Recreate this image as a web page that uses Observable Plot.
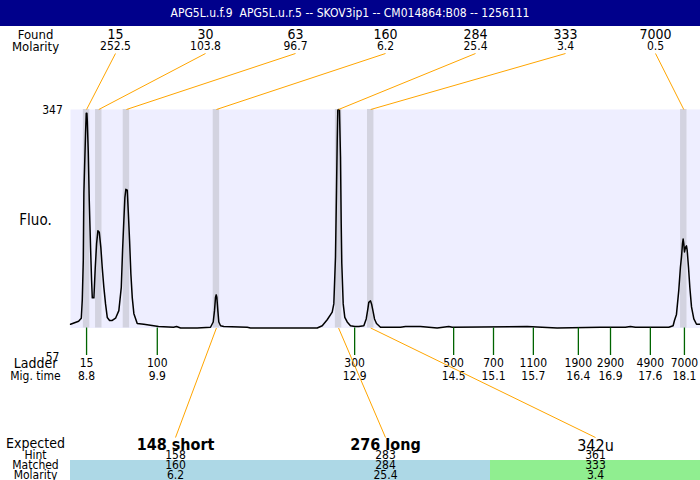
<!DOCTYPE html>
<html>
<head>
<meta charset="utf-8">
<script src="https://cdn.jsdelivr.net/npm/d3@7"></script>
<script src="https://cdn.jsdelivr.net/npm/@observablehq/plot@0.6"></script>
<style>
  html, body { margin: 0; padding: 0; background: #fff; }
  #title { width: 700px; height: 26px; line-height: 26px; background: #00008b; color: #fff;
           font-family: "DejaVu Sans Condensed", "DejaVu Sans", sans-serif; font-stretch: condensed; font-size: 12px; text-align: center; white-space: pre; }
  #chart svg { display: block; }
</style>
</head>
<body>
<div id="title">APG5L.u.f.9  APG5L.u.r.5 -- SKOV3ip1 -- CM014864:B08 -- 1256111</div>
<div id="chart"></div>
<script>
// ---------- data ----------
const ladderSizes = [15, 100, 300, 500, 700, 1100, 1900, 2900, 4900, 7000];
const ladderMig = [8.80, 9.90, 12.97, 14.51, 15.13, 15.75, 16.45, 16.95, 17.57, 18.10];
const ladderMigLabels = ["8.8", "9.9", "12.9", "14.5", "15.1", "15.7", "16.4", "16.9", "17.6", "18.1"];

const foundSizes = [15, 30, 63, 160, 284, 333, 7000];
const foundMolarity = [252.5, 103.8, 96.7, 6.2, 25.4, 3.4, 0.5];
const foundMig = [8.80, 8.99, 9.42, 10.82, 12.72, 13.22, 18.09];

const expectedLabels = ["148 short", "276 long", "342u"];
const expectedHint = [158, 283, 361];
const matchedSizes = [160, 284, 333];
const matchedMolarity = [6.2, 25.4, 3.4];
const matchType = ["expected", "expected", "unexpected"];

const traceMig = [8.551, 8.676, 8.718, 8.733, 8.749, 8.758, 8.769, 8.784, 8.795, 8.805, 8.811, 8.826, 8.842, 8.862, 8.878, 8.889,
  8.914, 8.935, 8.956, 8.976, 8.998, 9.022, 9.044, 9.069, 9.095, 9.122, 9.158, 9.200, 9.251, 9.302, 9.340, 9.360,
  9.380, 9.396, 9.411, 9.433, 9.448, 9.469, 9.489, 9.511, 9.536, 9.588, 9.691, 9.920, 10.153, 10.200, 10.262, 10.521,
  10.728, 10.770, 10.790, 10.806, 10.817, 10.826, 10.842, 10.857, 10.884, 10.935, 11.299, 11.350, 11.610, 12.388,
  12.466, 12.543, 12.621, 12.646, 12.672, 12.688, 12.699, 12.708, 12.719, 12.734, 12.750, 12.761, 12.770, 12.792,
  12.817, 12.854, 12.905, 12.973, 13.035, 13.113, 13.150, 13.175, 13.190, 13.217, 13.233, 13.259, 13.279, 13.310,
  13.372, 13.683, 13.761, 13.994, 14.254, 14.434, 14.490, 15.654, 16.120, 16.793, 17.182, 17.260, 17.338, 17.415,
  17.571, 17.856, 17.924, 17.945, 17.976, 18.012, 18.038, 18.054, 18.070, 18.080, 18.090, 18.101, 18.116, 18.132,
  18.143, 18.163, 18.184, 18.210, 18.246, 18.288, 18.349];
const traceFluo = [62, 66, 70, 94, 147, 236, 270, 315, 342, 342, 332, 292, 226, 164, 120, 97,
  97, 137, 169, 186, 184, 164, 137, 111, 89, 71, 67, 67, 70, 80, 111, 160,
  200, 230, 241, 240, 213, 173, 129, 97, 76, 63, 62, 59, 58, 59, 57, 57,
  58, 65, 80, 98, 101, 98, 80, 65, 60, 59, 58, 57, 57, 57,
  60, 68, 78, 89, 151, 240, 306, 346, 347, 346, 284, 196, 143, 89,
  71, 65, 60, 59, 59, 60, 69, 82, 91, 93, 89, 78, 69, 63,
  58, 58, 59, 59, 57, 59, 58, 59, 57, 58, 58, 59, 58, 58,
  58, 58, 60, 67, 75, 107, 138, 151, 169, 175, 169, 158, 164, 166,
  160, 138, 111, 85, 69, 62, 62];

// ---------- build tables ----------
const ladder = ladderSizes.map((s, i) => ({size: s, mig: ladderMig[i], migLabel: ladderMigLabels[i]}));
const found = foundSizes.map((s, i) => ({i, size: s, molarity: foundMolarity[i], mig: foundMig[i]}));
const expected = expectedLabels.map((label, j) => ({
  j, label, hint: expectedHint[j], matched: matchedSizes[j], molarity: matchedMolarity[j], type: matchType[j],
  mig: foundMig[foundSizes.indexOf(matchedSizes[j])]
}));
const trace = traceMig.map((t, i) => ({t, f: traceFluo[i]}));

// ---------- layout ----------
const W = 700, H = 454;
const xDomain = [8.55, 18.35], yDomain = [57, 347];
const xRange = [70, 700], yRange = [301.5, 83];
const X = Plot.scale({x: {domain: xDomain, range: xRange}});
const Y = Plot.scale({y: {domain: yDomain, range: yRange}});
const px = p => X.invert(p), py = p => Y.invert(p);
const foundCol = i => px(115 + 90 * i);
const expCol = j => px(175 + 210 * j);
const typeColor = {expected: "#add8e6", unexpected: "#90ee90"};
const font = "DejaVu Sans Condensed, DejaVu Sans, sans-serif";
const lab = (txt, y, size) => Plot.text([txt], {x: px(35), y: py(y), text: d => d, fontSize: size, fill: "black"});

const chart = Plot.plot({
  width: W, height: H,
  marginLeft: 70, marginRight: 0, marginTop: 83, marginBottom: H - 301.5,
  x: {domain: xDomain, range: xRange, axis: null},
  y: {domain: yDomain, range: yRange, axis: null},
  style: {fontFamily: font, fontStretch: "condensed", background: "white"},
  marks: [
    Plot.frame({fill: "#eeeeff", stroke: null}),
    Plot.rect(found, {x1: d => d.mig - 0.05, x2: d => d.mig + 0.05, fill: "#d3d3e0"}),
    Plot.line(trace, {x: "t", y: "f", stroke: "black", strokeWidth: 1.5}),
    // ladder
    Plot.ruleX(ladder, {x: "mig", y1: yDomain[0], y2: py(329), stroke: "#006400", strokeWidth: 1.3}),
    Plot.text(ladder, {x: "mig", y: py(337), text: d => String(d.size), fontSize: 12, fill: "black"}),
    Plot.text(ladder, {x: "mig", y: py(350), text: "migLabel", fontSize: 12, fill: "black"}),
    // y labels
    Plot.text([yDomain[1]], {x: px(52), y: d => d, dy: 1, text: d => String(d), fontSize: 12, fill: "black"}),
    Plot.text([yDomain[0]], {x: px(52), y: py(331), text: d => String(d), fontSize: 12, fill: "black"}),
    // header
    Plot.text(found, {x: d => foundCol(d.i), y: py(8), text: d => String(d.size), fontSize: 14, fill: "black"}),
    Plot.text(found, {x: d => foundCol(d.i), y: py(20), text: d => d.molarity.toFixed(1), fontSize: 12, fill: "black"}),
    Plot.link(found, {x1: d => foundCol(d.i), y1: py(27), x2: "mig", y2: yDomain[1], stroke: "orange", strokeWidth: 1}),
    // bottom table
    Plot.rect(expected, {x1: d => px(70 + 210 * d.j), x2: d => px(280 + 210 * d.j), y1: py(434), y2: py(454), fill: d => typeColor[d.type]}),
    Plot.link(expected, {x1: "mig", y1: yDomain[0], x2: d => expCol(d.j), y2: py(411), stroke: "orange", strokeWidth: 1}),
    Plot.text(expected.filter(d => d.type === "expected"), {x: d => expCol(d.j), y: py(418), text: "label", fontSize: 16, fontWeight: "bold", fill: "black"}),
    Plot.text(expected.filter(d => d.type !== "expected"), {x: d => expCol(d.j), y: py(419), text: "label", fontSize: 16, fill: "black"}),
    Plot.text(expected, {x: d => expCol(d.j), y: py(429), text: d => String(d.hint), fontSize: 12, fill: "black"}),
    Plot.text(expected, {x: d => expCol(d.j), y: py(439), text: d => String(d.matched), fontSize: 12, fill: "black"}),
    Plot.text(expected, {x: d => expCol(d.j), y: py(449), text: d => d.molarity.toFixed(1), fontSize: 12, fill: "black"}),
    // row labels
    lab("Found", 8, 13), lab("Molarity", 20, 13),
    lab("Fluo.", 194, 15),
    lab("Ladder", 337, 14), lab("Mig. time", 350, 12),
    lab("Expected", 417, 14), lab("Hint", 429, 12), lab("Matched", 439, 12), lab("Molarity", 449, 12)
  ]
});
document.getElementById("chart").appendChild(chart);
</script>
</body>
</html>
